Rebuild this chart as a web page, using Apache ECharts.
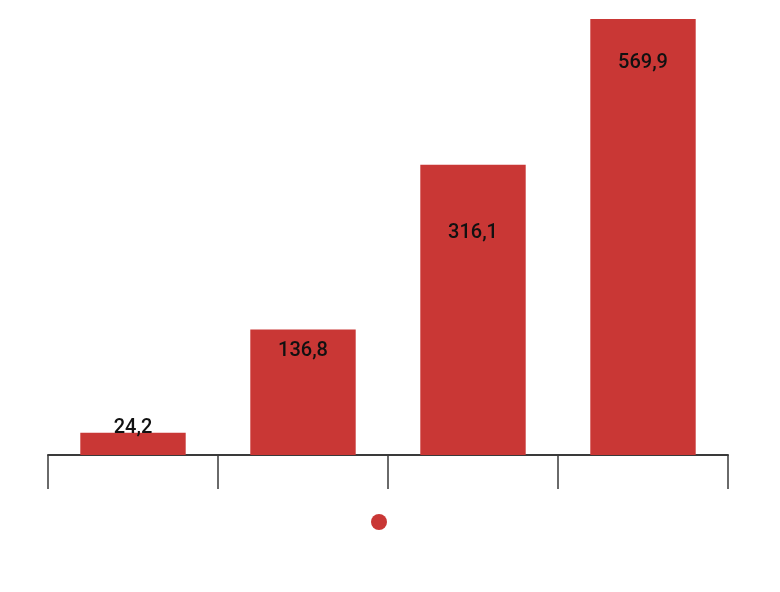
<!DOCTYPE html>
<html style="height: 100%;">
<head>
<meta charset="utf-8">
<title>bar chart</title>
<script type="text/javascript" src="https://cdn.jsdelivr.net/npm/echarts@6/dist/echarts.min.js"></script>
</head>
<body style="height: 100%; margin: 0; background: #fff;">
<div id="container" style="width: 780px; height: 592px;"></div>
<script type="text/javascript">
// data
var categories = ['A', 'B', 'C', 'D'];
var values = [24.2, 136.8, 316.1, 569.9];
// label nudges (px) from the inside-top spot of each bar
var labelNudge = [-20, 7, 53, 29];

var dom = document.getElementById('container');
var myChart = echarts.init(dom);

var seriesData = [];
for (var i = 0; i < values.length; i++) {
    seriesData.push({
        value: values[i],
        label: { offset: [0, labelNudge[i]] }
    });
}

var option = {
    animation: false,
    textStyle: { fontFamily: 'Roboto' },
    legend: {
        show: true,
        left: 366,
        top: 509,
        icon: 'circle',
        itemWidth: 16,
        itemHeight: 16,
        formatter: function () { return ''; },
        data: ['serie']
    },
    grid: {
        left: 48,
        right: 52,
        top: 19,
        bottom: 137
    },
    xAxis: {
        type: 'category',
        data: categories,
        axisLine: { lineStyle: { color: '#3a3a3a', width: 2 } },
        axisTick: { show: true, length: 34, lineStyle: { color: '#3a3a3a', width: 1.5 } },
        axisLabel: { show: false }
    },
    yAxis: {
        type: 'value',
        min: 0,
        max: 475,
        show: false,
        splitLine: { show: false }
    },
    series: [{
        name: 'serie',
        type: 'bar',
        barCategoryGap: '38%',
        clip: true,
        itemStyle: { color: '#c93735' },
        label: {
            show: true,
            position: 'insideTop',
            color: '#111',
            fontSize: 20,
            fontWeight: 500,
            fontFamily: 'Roboto',
            formatter: function (p) {
                return String(p.value).replace('.', ',');
            }
        },
        data: seriesData
    }]
};
myChart.setOption(option);
window.onresize = function () {
    myChart.resize();
};
</script>
</body>
</html>
